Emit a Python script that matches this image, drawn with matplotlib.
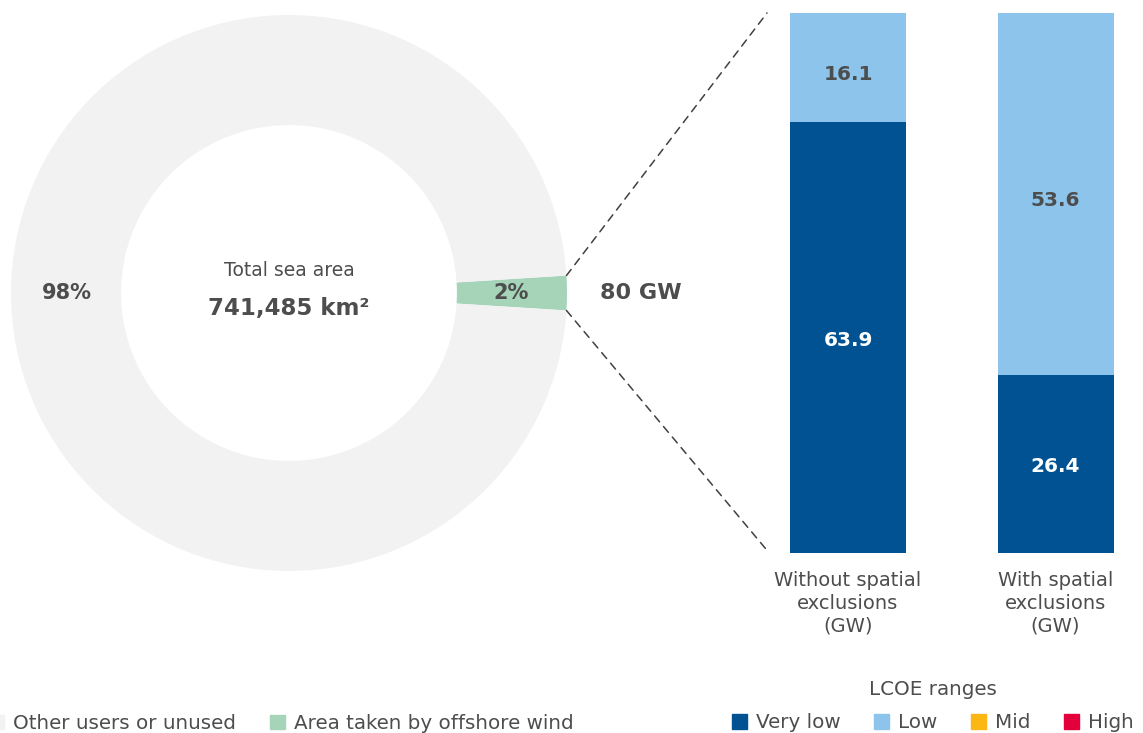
import numpy as np
import matplotlib.pyplot as plt
from matplotlib.patches import Patch, ConnectionPatch

plt.rcParams['font.family'] = ['DejaVu Sans']

# donut data
area_labels = ['Area taken by offshore wind', 'Other users or unused']
area_share = [2, 98]
area_colors = ['#a5d4b9', '#f2f2f2']

# bar data
bar_cats = ['Without spatial\nexclusions\n(GW)', 'With spatial\nexclusions\n(GW)']
very_low = [63.9, 26.4]
low = [16.1, 53.6]
lcoe_names = ['Very low', 'Low', 'Mid', 'High']
lcoe_colors = ['#005293', '#8cc4ec', '#fdb714', '#e4003b']

txt = '#4d4d4d'
W, H = 1143, 733
fig = plt.figure(figsize=(W / 100, H / 100), dpi=100)

# donut axes: center (289, 293) px, radius 278 px
r = 278
ax1 = fig.add_axes([(289 - r) / W, (H - 293 - r) / H, 2 * r / W, 2 * r / H])
wedges, _, pcts = ax1.pie(area_share, colors=area_colors, startangle=-3.6,
                          radius=1, wedgeprops=dict(width=0.396, linewidth=0),
                          autopct='%.0f%%', pctdistance=0.8,
                          textprops=dict(color=txt, fontsize=15, fontweight='bold'))
ax1.set_xlim(-1, 1)
ax1.set_ylim(-1, 1)
ax1.set_aspect('equal')
ax1.axis('off')
ax1.text(0, 0.08, 'Total sea area', ha='center', va='center', fontsize=13.5, color=txt)
ax1.text(0, -0.055, '741,485 km²', ha='center', va='center', fontsize=16.5,
         fontweight='bold', color=txt)
ax1.text(1.265, 0, '80 GW', ha='center', va='center', fontsize=16,
         fontweight='bold', color=txt)

# bar axes
unit = 207.5
c0 = 848
ax2 = fig.add_axes([740 / W, (H - 553) / H, (W - 740) / W, 540 / H])
x = [0, 1]
b1 = ax2.bar(x, very_low, width=116 / unit, color=lcoe_colors[0])
b2 = ax2.bar(x, low, bottom=very_low, width=116 / unit, color=lcoe_colors[1])
lab1 = ax2.bar_label(b1, labels=[f'{v:.1f}' for v in very_low], label_type='center',
                     color='white', fontsize=14.5, fontweight='bold')
lab2 = ax2.bar_label(b2, labels=[f'{v:.1f}' for v in low], label_type='center',
                     color=txt, fontsize=14.5, fontweight='bold')
for t in lab1:
    t.xyann = (0, -2)
for t in lab2:
    t.xyann = (0, -5)
ax2.set_xlim(-(c0 - 740) / unit, (W - c0) / unit)
ax2.set_ylim(0, 80)
ax2.set_xticks(x)
ax2.set_xticklabels(bar_cats, fontsize=14, color=txt, linespacing=1.25)
ax2.tick_params(axis='x', length=0, pad=13)
ax2.set_yticks([])
for s in ax2.spines.values():
    s.set_visible(False)

# dashed connectors
a = np.deg2rad(3.6)
for sgn, yb in [(1, 80), (-1, 0.4)]:
    con = ConnectionPatch(xyA=(np.cos(a), sgn * np.sin(a)), coordsA=ax1.transData,
                          xyB=(-(c0 - 767) / unit, yb), coordsB=ax2.transData,
                          linestyle=(0, (5, 4)), color='#404040', linewidth=1.1)
    fig.add_artist(con)

# legends
h1 = [Patch(color=area_colors[1]), Patch(color=area_colors[0])]
leg1 = fig.legend(h1, [area_labels[1], area_labels[0]], loc='center left',
                  bbox_to_anchor=(-0.025, 0.013), ncol=2, frameon=False,
                  handlelength=0.75, handleheight=0.75, handletextpad=0.45,
                  columnspacing=1.7, fontsize=14.3, labelcolor=txt)
h2 = [Patch(color=c) for c in lcoe_colors]
leg2 = fig.legend(h2, lcoe_names, loc='lower right', bbox_to_anchor=(1.004, -0.018),
                  ncol=4, frameon=False, title='LCOE ranges',
                  handlelength=0.75, handleheight=0.75, handletextpad=0.45,
                  columnspacing=1.7, fontsize=14.3, labelcolor=txt,
                  title_fontsize=14.3, borderaxespad=0.3, labelspacing=0.72)
leg2.get_title().set_color(txt)

fig.savefig('out.png', dpi=100)
